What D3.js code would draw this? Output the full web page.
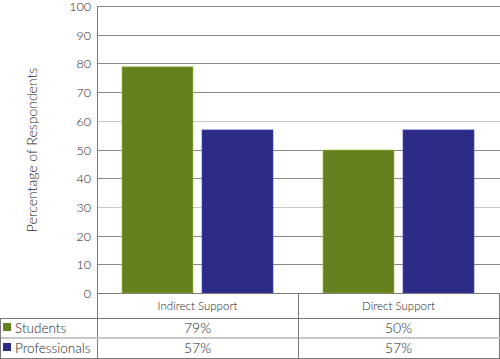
<!DOCTYPE html>
<html><head><meta charset="utf-8">
<script src="https://cdn.jsdelivr.net/npm/d3@7"></script>
<style>
body{margin:0;background:#fff;}
svg{display:block;font-family:Lato,"Open Sans",sans-serif;font-weight:300;}
</style></head>
<body><svg id="c" width="500" height="359"></svg>
<script>
const categories = ["Indirect Support", "Direct Support"];
const seriesNames = ["Students", "Professionals"];
const students = [79, 50];
const professionals = [57, 57];
const yTicks = [0,10,20,30,40,50,60,70,80,90,100];
const yTitle = "Percentage of Respondents";

const colors = {Students:"#65801f", Professionals:"#2b2c86"};
const seriesVals = {Students:students, Professionals:professionals};
const textColor = "#1e1e1e";

const svg = d3.select("#c");
const L = 97, R = 499, T = 6, B = 293;
const y = d3.scaleLinear().domain([0,100]).range([B,T]);
const x0 = d3.scaleBand().domain(categories).range([L,R]);
const x1 = d3.scaleBand().domain(seriesNames).range([0,x0.bandwidth()]).paddingInner(0.1).paddingOuter(0.306);

// gridlines
svg.append("g").selectAll("line").data(yTicks).join("line")
  .attr("x1",L).attr("x2",500)
  .attr("y1",d=>Math.round(y(d))+0.5).attr("y2",d=>Math.round(y(d))+0.5)
  .attr("stroke",d=>(d===30||d===60)?"#c8c8c8":"#8a8a8a").attr("stroke-width",1);

// y axis
const yAxis = d3.axisLeft(y).tickValues(yTicks).tickSize(0).tickPadding(6);
const ga = svg.append("g").attr("transform",`translate(${L},0)`).call(yAxis);
ga.select(".domain").remove();
ga.selectAll("text").attr("font-size",12.5).attr("fill",textColor).attr("font-family","Lato,sans-serif").attr("font-weight",300).attr("dy","0.36em");

// bars
const gb = svg.append("g");
categories.forEach((c,i)=>{
  seriesNames.forEach(s=>{
    const v = seriesVals[s][i];
    gb.append("rect")
      .attr("x",x0(c)+x1(s)+0.5).attr("width",x1.bandwidth()-1)
      .attr("y",y(v)+0.5).attr("height",B-y(v)-0.5)
      .attr("fill",colors[s])
      .attr("stroke",d3.color(colors[s]).brighter(1.2)).attr("stroke-opacity",0.6).attr("stroke-width",1);
  });
});

// table lines
const line=(x1_,y1_,x2_,y2_,c,w)=>svg.append("line").attr("x1",x1_).attr("y1",y1_).attr("x2",x2_).attr("y2",y2_).attr("stroke",c).attr("stroke-width",w||1);
line(L+0.5,T,L+0.5,359,"#7a7a7a");
line(L,B+0.5,R+1,B+0.5,"#7a7a7a");
line(R+0.5,B,R+0.5,359,"#7a7a7a");
line(0,318.5,R+1,318.5,"#7a7a7a");
line(0,338,R+1,338,"#c8c8c8",2);
line(0,358.5,R+1,358.5,"#7a7a7a");
line(0.5,318,0.5,359,"#7a7a7a");
const mid = x0(categories[1]);
line(Math.round(mid)+0.5,B,Math.round(mid)+0.5,359,"#7a7a7a");

// category labels
svg.append("g").selectAll("text").data(categories).join("text")
  .attr("x",d=>x0(d)+x0.bandwidth()/2).attr("y",310)
  .attr("text-anchor","middle").attr("font-size",11.5).attr("fill",textColor).text(d=>d);

// rows
seriesNames.forEach((s,r)=>{
  const cy = r===0?333:353;
  svg.append("rect").attr("x",3).attr("y",cy-10).attr("width",8).attr("height",8).attr("fill",colors[s]);
  svg.append("text").attr("x",15).attr("y",cy).attr("font-size",13.5).attr("fill",textColor).text(s);
  categories.forEach((c,i)=>{
    svg.append("text").attr("x",x0(c)+x0.bandwidth()/2).attr("y",cy)
      .attr("text-anchor","middle").attr("font-size",14).attr("fill",textColor).text(seriesVals[s][i]+"%");
  });
});

// y title
svg.append("text").attr("transform","translate(37,150) rotate(-90)")
  .attr("text-anchor","middle").attr("font-size",14).attr("fill",textColor).text(yTitle);
</script></body></html>
